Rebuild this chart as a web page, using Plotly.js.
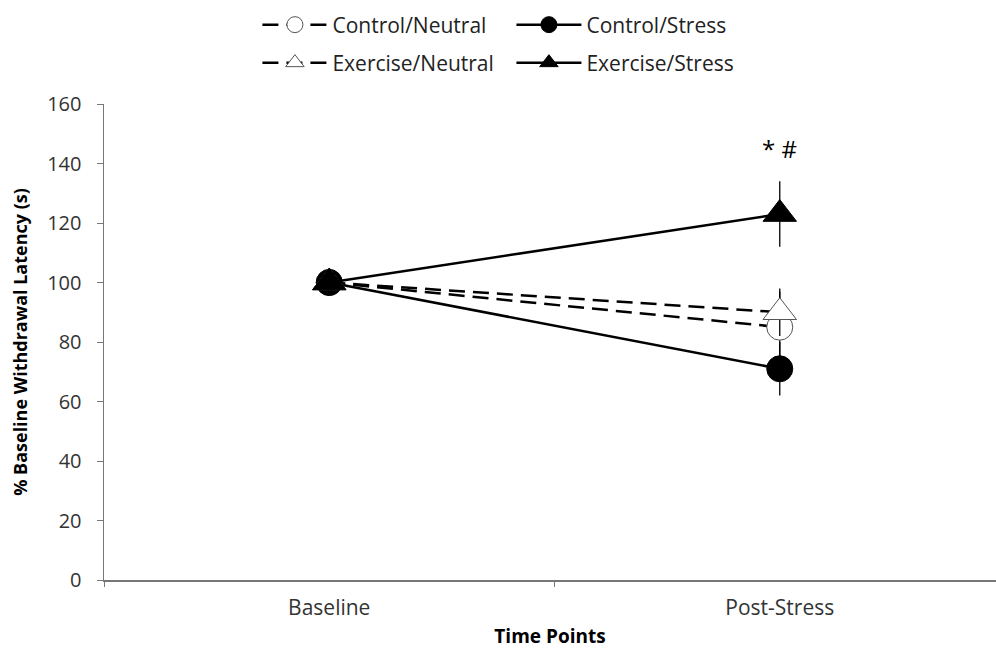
<!DOCTYPE html>
<html><head><meta charset="utf-8">
<script src="https://cdn.plot.ly/plotly-3.0.1.min.js"></script>
<style>body{margin:0;background:#fff}#chart{width:996px;height:649px}</style>
</head><body><div id="chart"></div>
<script>
const timePoints = ["Baseline", "Post-Stress"];
const controlNeutral = [100, 85];
const controlNeutralErr = [0, 12];
const controlStress = [100, 71];
const controlStressErr = [0, 9];
const exerciseNeutral = [100, 90];
const exerciseNeutralErr = [0, 8];
const exerciseStress = [100, 123];
const exerciseStressErr = [0, 11];
const sigLabel = "* #";
const sigY = 145;

const font = "Open Sans, Liberation Sans, sans-serif";
function tr(name, y, err, dash, symbol, fill, legend) {
  return {
    type: "scatter", mode: "lines+markers", name: name, x: timePoints, y: y,
    legend: legend,
    line: {color: "#000", width: 2.5, dash: dash},
    marker: {symbol: symbol, size: symbol === "triangle-up" ? 29 : 26, color: fill,
             line: {color: fill === "#000" ? "#000" : "#555", width: 1}},
    error_y: {type: "data", array: err, visible: true, color: "#000", thickness: 1.3, width: 0}
  };
}
const dashPat = "16px,8px";
const data = [
  tr("Control/Neutral", controlNeutral, controlNeutralErr, dashPat, "circle", "#fff", "legend"),
  tr("Control/Stress", controlStress, controlStressErr, "solid", "circle", "#000", "legend"),
  tr("Exercise/Neutral", exerciseNeutral, exerciseNeutralErr, dashPat, "triangle-up", "#fff", "legend2"),
  tr("Exercise/Stress", exerciseStress, exerciseStressErr, "solid", "triangle-up", "#000", "legend2")
];
const legendBase = {orientation: "h", xref: "paper", yref: "container", x: 0.172, xanchor: "left",
  yanchor: "middle", font: {family: font, size: 21, color: "#222"}, bgcolor: "rgba(0,0,0,0)",
  itemsizing: "trace", itemwidth: 65, entrywidth: 174};
const layout = {
  width: 996, height: 649,
  margin: {l: 104, r: 0, t: 104, b: 69},
  paper_bgcolor: "#fff", plot_bgcolor: "#fff",
  font: {family: font, color: "#333"},
  showlegend: true,
  legend: Object.assign({}, legendBase, {y: 1 - 25/649}),
  legend2: Object.assign({}, legendBase, {y: 1 - 63/649}),
  xaxis: {
    type: "category", range: [-0.5, 1.48], automargin: false,
    showline: true, linecolor: "#777", linewidth: 1.5,
    ticks: "outside", tickson: "boundaries", ticklen: 5, tickcolor: "#777",
    ticklabelstandoff: 8,
    showgrid: false, zeroline: false,
    tickfont: {family: font, size: 21, color: "#333"},
    title: {text: "<b>Time Points</b>", font: {family: font, size: 19, color: "#000"}, standoff: 14}
  },
  yaxis: {
    range: [0, 160], dtick: 20, automargin: false,
    showline: true, linecolor: "#777", linewidth: 1.5,
    ticks: "outside", ticklen: 6, tickcolor: "#777",
    ticklabelstandoff: 11,
    showgrid: false, zeroline: false,
    tickfont: {family: font, size: 20, color: "#333"},
    title: {text: "<b>% Baseline Withdrawal Latency (s)</b>", font: {family: font, size: 18, color: "#000"}, standoff: 15}
  },
  annotations: [{
    x: "Post-Stress", y: sigY, xref: "x", yref: "y", text: sigLabel, showarrow: false,
    font: {family: font, size: 24, color: "#000"}
  }]
};
Plotly.newPlot("chart", data, layout, {displayModeBar: false, staticPlot: true});
</script></body></html>
